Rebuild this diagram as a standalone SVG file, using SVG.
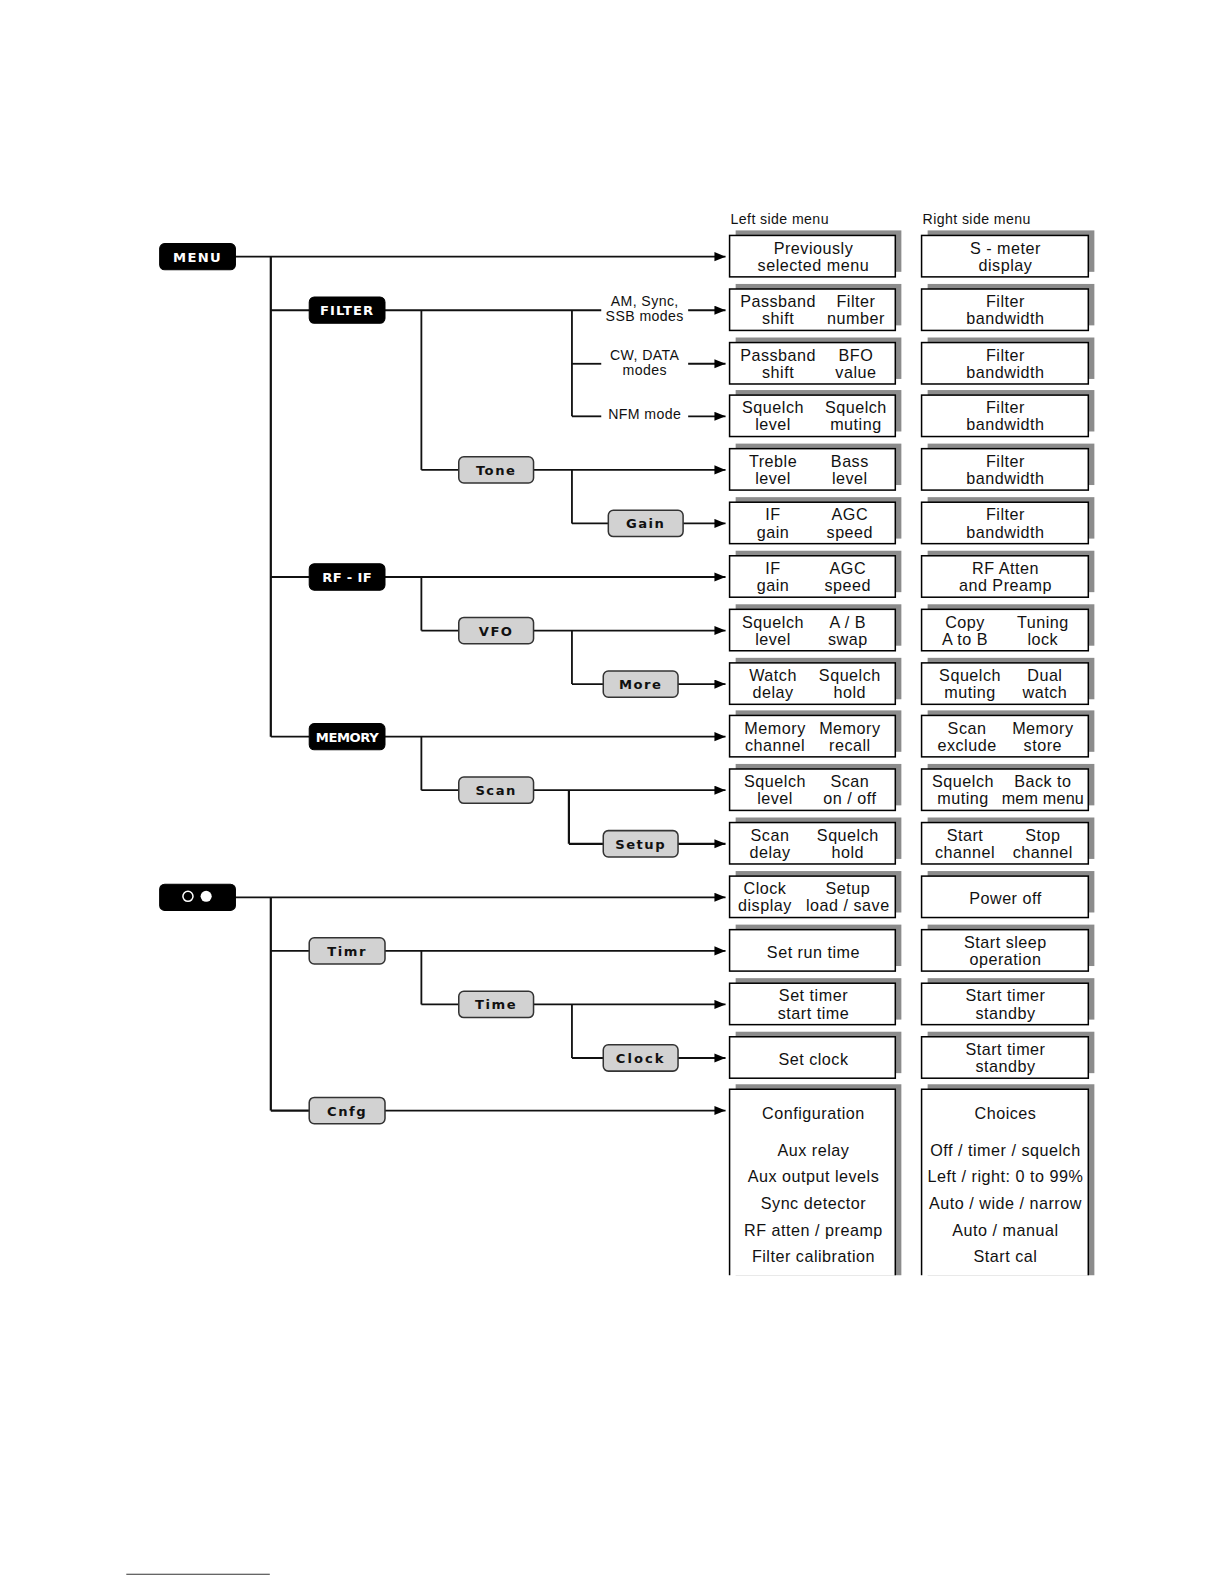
<svg xmlns="http://www.w3.org/2000/svg" width="1224" height="1584" viewBox="0 0 1224 1584">
<defs>
<marker id="arr" markerUnits="userSpaceOnUse" markerWidth="12" markerHeight="10" refX="11" refY="4.5" orient="auto">
<path d="M0,0 L11,4.5 L0,9 z" fill="#000"/>
</marker>
</defs>
<style>
.bn rect{fill:#000;stroke:#000;stroke-width:1}
.bn text{fill:#fff;font-family:"DejaVu Sans",sans-serif;font-weight:bold;font-size:13px;letter-spacing:1px;text-anchor:middle}
.gn rect{fill:#d2d2d2;stroke:#333;stroke-width:1.5}
.gn text{fill:#111;font-family:"DejaVu Sans",sans-serif;font-weight:bold;font-size:13px;letter-spacing:1.5px;text-anchor:middle}
.sh{fill:#8c8c8c}
.bx{fill:#fff;stroke:#000;stroke-width:1.5}
.t{font-family:"Liberation Sans",Arial,sans-serif;font-size:16px;fill:#111;text-anchor:middle;letter-spacing:0.5px}
.lb{font-family:"Liberation Sans",Arial,sans-serif;font-size:14px;fill:#111;text-anchor:middle;letter-spacing:0.4px}
.hd{font-family:"Liberation Sans",Arial,sans-serif;font-size:14px;fill:#111;letter-spacing:0.4px}
.c line{stroke:#111;stroke-width:1.8;fill:none}
.c .a{marker-end:url(#arr)}
</style>
<rect width="1224" height="1584" fill="#fff"/>
<g transform="scale(1.0105)">

<text class="hd" x="723" y="222">Left side menu</text>
<text class="hd" x="913" y="222">Right side menu</text>

<g id="connectors" class="c">
<line class="a" x1="232" y1="254" x2="718" y2="254"/>
<line x1="268" y1="254" x2="268" y2="729" style="stroke-width:2.2"/>
<line x1="268" y1="307" x2="306" y2="307"/>
<line x1="268" y1="571" x2="306" y2="571"/>
<line x1="268" y1="729" x2="306" y2="729"/>
<line x1="381" y1="307" x2="595" y2="307"/>
<line x1="566" y1="307" x2="566" y2="412"/>
<line x1="566" y1="360" x2="595" y2="360"/>
<line x1="566" y1="412" x2="595" y2="412"/>
<line class="a" x1="681" y1="307" x2="718" y2="307"/>
<line class="a" x1="681" y1="360" x2="718" y2="360"/>
<line class="a" x1="681" y1="412" x2="718" y2="412"/>
<line x1="417" y1="307" x2="417" y2="465"/>
<line x1="417" y1="465" x2="454" y2="465"/>
<line class="a" x1="528" y1="465" x2="718" y2="465"/>
<line x1="566" y1="465" x2="566" y2="518"/>
<line x1="566" y1="518" x2="602" y2="518"/>
<line class="a" x1="676" y1="518" x2="718" y2="518"/>
<line class="a" x1="381" y1="571" x2="718" y2="571"/>
<line x1="417" y1="571" x2="417" y2="624"/>
<line x1="417" y1="624" x2="454" y2="624"/>
<line class="a" x1="528" y1="624" x2="718" y2="624"/>
<line x1="566" y1="624" x2="566" y2="677"/>
<line x1="566" y1="677" x2="597" y2="677"/>
<line class="a" x1="671" y1="677" x2="718" y2="677"/>
<line class="a" x1="381" y1="729" x2="718" y2="729"/>
<line x1="417" y1="729" x2="417" y2="782"/>
<line x1="417" y1="782" x2="454" y2="782"/>
<line class="a" x1="528" y1="782" x2="718" y2="782"/>
<line x1="563" y1="782" x2="563" y2="835" style="stroke-width:2.2"/>
<line x1="563" y1="835" x2="597" y2="835" style="stroke-width:2.2"/>
<line class="a" x1="671" y1="835" x2="718" y2="835" style="stroke-width:2.2"/>
<line class="a" x1="232" y1="888" x2="718" y2="888"/>
<line x1="268" y1="888" x2="268" y2="1099" style="stroke-width:2.2"/>
<line x1="268" y1="941" x2="306" y2="941"/>
<line x1="268" y1="1099" x2="306" y2="1099" style="stroke-width:2.2"/>
<line class="a" x1="381" y1="941" x2="718" y2="941"/>
<line x1="417" y1="941" x2="417" y2="994"/>
<line x1="417" y1="994" x2="454" y2="994"/>
<line class="a" x1="528" y1="994" x2="718" y2="994"/>
<line x1="566" y1="994" x2="566" y2="1047"/>
<line x1="566" y1="1047" x2="597" y2="1047" style="stroke-width:2.2"/>
<line class="a" x1="671" y1="1047" x2="718" y2="1047" style="stroke-width:2.2"/>
<line class="a" x1="381" y1="1099" x2="718" y2="1099"/>
</g>

<g id="mode-labels">
<text class="lb" x="638" y="303">AM, Sync,</text>
<text class="lb" x="638" y="318">SSB modes</text>
<text class="lb" x="638" y="356">CW, DATA</text>
<text class="lb" x="638" y="371">modes</text>
<text class="lb" x="638" y="415">NFM mode</text>
</g>

<g id="n-menu" class="bn"><rect x="158" y="241" width="75" height="26" rx="5"/><text x="195.5" y="259" style="letter-spacing:1.3px">MENU</text></g>
<g id="n-filter" class="bn"><rect x="306" y="294" width="75" height="26" rx="5"/><text x="343.5" y="312">FILTER</text></g>
<g id="n-rfif" class="bn"><rect x="306" y="558" width="75" height="26" rx="5"/><text x="343.5" y="576" style="letter-spacing:0.3px">RF - IF</text></g>
<g id="n-memory" class="bn"><rect x="306" y="716" width="75" height="26" rx="5"/><text x="343.5" y="734" style="letter-spacing:-0.4px">MEMORY</text></g>
<g id="n-oo" class="bn"><rect x="158" y="875" width="75" height="26" rx="5"/>
<circle cx="186" cy="887" r="5" fill="none" stroke="#fff" stroke-width="1.5"/><circle cx="204" cy="887" r="5.5" fill="#fff"/></g>

<g id="n-tone" class="gn"><rect x="454" y="452" width="74" height="26" rx="5"/><text x="491" y="470">Tone</text></g>
<g id="n-gain" class="gn"><rect x="602" y="505" width="74" height="26" rx="5"/><text x="639" y="523">Gain</text></g>
<g id="n-vfo" class="gn"><rect x="454" y="611" width="74" height="26" rx="5"/><text x="491" y="629">VFO</text></g>
<g id="n-more" class="gn"><rect x="597" y="664" width="74" height="26" rx="5"/><text x="634" y="682">More</text></g>
<g id="n-scan" class="gn"><rect x="454" y="769" width="74" height="26" rx="5"/><text x="491" y="787">Scan</text></g>
<g id="n-setup" class="gn"><rect x="597" y="822" width="74" height="26" rx="5"/><text x="634" y="840">Setup</text></g>
<g id="n-timr" class="gn"><rect x="306" y="928" width="75" height="26" rx="5"/><text x="343.5" y="946">Timr</text></g>
<g id="n-time" class="gn"><rect x="454" y="981" width="74" height="26" rx="5"/><text x="491" y="999">Time</text></g>
<g id="n-clock" class="gn"><rect x="597" y="1034" width="74" height="26" rx="5"/><text x="634" y="1052" style="letter-spacing:2px">Clock</text></g>
<g id="n-cnfg" class="gn"><rect x="306" y="1086" width="75" height="26" rx="5"/><text x="343.5" y="1104">Cnfg</text></g>

<g id="L0"><rect class="sh" x="728" y="228" width="164" height="41"/><rect class="bx" x="722" y="233" width="164" height="41"/>
<text class="t" x="805" y="251">Previously</text><text class="t" x="805" y="268">selected menu</text></g>
<g id="L1"><rect class="sh" x="728" y="281" width="164" height="41"/><rect class="bx" x="722" y="286" width="164" height="41"/>
<text class="t" x="770" y="304">Passband</text><text class="t" x="770" y="321">shift</text><text class="t" x="847" y="304">Filter</text><text class="t" x="847" y="321">number</text></g>
<g id="L2"><rect class="sh" x="728" y="334" width="164" height="41"/><rect class="bx" x="722" y="339" width="164" height="41"/>
<text class="t" x="770" y="357">Passband</text><text class="t" x="770" y="374">shift</text><text class="t" x="847" y="357">BFO</text><text class="t" x="847" y="374">value</text></g>
<g id="L3"><rect class="sh" x="728" y="386" width="164" height="41"/><rect class="bx" x="722" y="391" width="164" height="41"/>
<text class="t" x="765" y="409">Squelch</text><text class="t" x="765" y="426">level</text><text class="t" x="847" y="409">Squelch</text><text class="t" x="847" y="426">muting</text></g>
<g id="L4"><rect class="sh" x="728" y="439" width="164" height="41"/><rect class="bx" x="722" y="444" width="164" height="41"/>
<text class="t" x="765" y="462">Treble</text><text class="t" x="765" y="479">level</text><text class="t" x="841" y="462">Bass</text><text class="t" x="841" y="479">level</text></g>
<g id="L5"><rect class="sh" x="728" y="492" width="164" height="41"/><rect class="bx" x="722" y="497" width="164" height="41"/>
<text class="t" x="765" y="515">IF</text><text class="t" x="765" y="532">gain</text><text class="t" x="841" y="515">AGC</text><text class="t" x="841" y="532">speed</text></g>
<g id="L6"><rect class="sh" x="728" y="545" width="164" height="41"/><rect class="bx" x="722" y="550" width="164" height="41"/>
<text class="t" x="765" y="568">IF</text><text class="t" x="765" y="585">gain</text><text class="t" x="839" y="568">AGC</text><text class="t" x="839" y="585">speed</text></g>
<g id="L7"><rect class="sh" x="728" y="598" width="164" height="41"/><rect class="bx" x="722" y="603" width="164" height="41"/>
<text class="t" x="765" y="621">Squelch</text><text class="t" x="765" y="638">level</text><text class="t" x="839" y="621">A / B</text><text class="t" x="839" y="638">swap</text></g>
<g id="L8"><rect class="sh" x="728" y="651" width="164" height="41"/><rect class="bx" x="722" y="656" width="164" height="41"/>
<text class="t" x="765" y="674">Watch</text><text class="t" x="765" y="691">delay</text><text class="t" x="841" y="674">Squelch</text><text class="t" x="841" y="691">hold</text></g>
<g id="L9"><rect class="sh" x="728" y="703" width="164" height="41"/><rect class="bx" x="722" y="708" width="164" height="41"/>
<text class="t" x="767" y="726">Memory</text><text class="t" x="767" y="743">channel</text><text class="t" x="841" y="726">Memory</text><text class="t" x="841" y="743">recall</text></g>
<g id="L10"><rect class="sh" x="728" y="756" width="164" height="41"/><rect class="bx" x="722" y="761" width="164" height="41"/>
<text class="t" x="767" y="779">Squelch</text><text class="t" x="767" y="796">level</text><text class="t" x="841" y="779">Scan</text><text class="t" x="841" y="796">on / off</text></g>
<g id="L11"><rect class="sh" x="728" y="809" width="164" height="41"/><rect class="bx" x="722" y="814" width="164" height="41"/>
<text class="t" x="762" y="832">Scan</text><text class="t" x="762" y="849">delay</text><text class="t" x="839" y="832">Squelch</text><text class="t" x="839" y="849">hold</text></g>
<g id="L12"><rect class="sh" x="728" y="862" width="164" height="41"/><rect class="bx" x="722" y="867" width="164" height="41"/>
<text class="t" x="757" y="885">Clock</text><text class="t" x="757" y="902">display</text><text class="t" x="839" y="885">Setup</text><text class="t" x="839" y="902">load / save</text></g>
<g id="L13"><rect class="sh" x="728" y="915" width="164" height="41"/><rect class="bx" x="722" y="920" width="164" height="41"/>
<text class="t" x="805" y="948">Set run time</text></g>
<g id="L14"><rect class="sh" x="728" y="968" width="164" height="41"/><rect class="bx" x="722" y="973" width="164" height="41"/>
<text class="t" x="805" y="991">Set timer</text><text class="t" x="805" y="1008">start time</text></g>
<g id="L15"><rect class="sh" x="728" y="1021" width="164" height="41"/><rect class="bx" x="722" y="1026" width="164" height="41"/>
<text class="t" x="805" y="1054">Set clock</text></g>
<g id="L16"><path class="sh" d="M728,1262 V1073 H892 V1262 z"/><path class="bx" d="M722,1262 V1078 H886 V1262"/>
<text class="t" x="805" y="1107">Configuration</text>
<text class="t" x="805" y="1144">Aux relay</text>
<text class="t" x="805" y="1170">Aux output levels</text>
<text class="t" x="805" y="1196">Sync detector</text>
<text class="t" x="805" y="1223">RF atten / preamp</text>
<text class="t" x="805" y="1249">Filter calibration</text></g>

<g id="R0"><rect class="sh" x="918" y="228" width="165" height="41"/><rect class="bx" x="912" y="233" width="165" height="41"/>
<text class="t" x="995" y="251">S - meter</text><text class="t" x="995" y="268">display</text></g>
<g id="R1"><rect class="sh" x="918" y="281" width="165" height="41"/><rect class="bx" x="912" y="286" width="165" height="41"/>
<text class="t" x="995" y="304">Filter</text><text class="t" x="995" y="321">bandwidth</text></g>
<g id="R2"><rect class="sh" x="918" y="334" width="165" height="41"/><rect class="bx" x="912" y="339" width="165" height="41"/>
<text class="t" x="995" y="357">Filter</text><text class="t" x="995" y="374">bandwidth</text></g>
<g id="R3"><rect class="sh" x="918" y="386" width="165" height="41"/><rect class="bx" x="912" y="391" width="165" height="41"/>
<text class="t" x="995" y="409">Filter</text><text class="t" x="995" y="426">bandwidth</text></g>
<g id="R4"><rect class="sh" x="918" y="439" width="165" height="41"/><rect class="bx" x="912" y="444" width="165" height="41"/>
<text class="t" x="995" y="462">Filter</text><text class="t" x="995" y="479">bandwidth</text></g>
<g id="R5"><rect class="sh" x="918" y="492" width="165" height="41"/><rect class="bx" x="912" y="497" width="165" height="41"/>
<text class="t" x="995" y="515">Filter</text><text class="t" x="995" y="532">bandwidth</text></g>
<g id="R6"><rect class="sh" x="918" y="545" width="165" height="41"/><rect class="bx" x="912" y="550" width="165" height="41"/>
<text class="t" x="995" y="568">RF Atten</text><text class="t" x="995" y="585">and Preamp</text></g>
<g id="R7"><rect class="sh" x="918" y="598" width="165" height="41"/><rect class="bx" x="912" y="603" width="165" height="41"/>
<text class="t" x="955" y="621">Copy</text><text class="t" x="955" y="638">A to B</text><text class="t" x="1032" y="621">Tuning</text><text class="t" x="1032" y="638">lock</text></g>
<g id="R8"><rect class="sh" x="918" y="651" width="165" height="41"/><rect class="bx" x="912" y="656" width="165" height="41"/>
<text class="t" x="960" y="674">Squelch</text><text class="t" x="960" y="691">muting</text><text class="t" x="1034" y="674">Dual</text><text class="t" x="1034" y="691">watch</text></g>
<g id="R9"><rect class="sh" x="918" y="703" width="165" height="41"/><rect class="bx" x="912" y="708" width="165" height="41"/>
<text class="t" x="957" y="726">Scan</text><text class="t" x="957" y="743">exclude</text><text class="t" x="1032" y="726">Memory</text><text class="t" x="1032" y="743">store</text></g>
<g id="R10"><rect class="sh" x="918" y="756" width="165" height="41"/><rect class="bx" x="912" y="761" width="165" height="41"/>
<text class="t" x="953" y="779">Squelch</text><text class="t" x="953" y="796">muting</text><text class="t" x="1032" y="779">Back to</text><text class="t" x="1032" y="796" style="letter-spacing:0.2px">mem menu</text></g>
<g id="R11"><rect class="sh" x="918" y="809" width="165" height="41"/><rect class="bx" x="912" y="814" width="165" height="41"/>
<text class="t" x="955" y="832">Start</text><text class="t" x="955" y="849">channel</text><text class="t" x="1032" y="832">Stop</text><text class="t" x="1032" y="849">channel</text></g>
<g id="R12"><rect class="sh" x="918" y="862" width="165" height="41"/><rect class="bx" x="912" y="867" width="165" height="41"/>
<text class="t" x="995" y="895">Power off</text></g>
<g id="R13"><rect class="sh" x="918" y="915" width="165" height="41"/><rect class="bx" x="912" y="920" width="165" height="41"/>
<text class="t" x="995" y="938">Start sleep</text><text class="t" x="995" y="955">operation</text></g>
<g id="R14"><rect class="sh" x="918" y="968" width="165" height="41"/><rect class="bx" x="912" y="973" width="165" height="41"/>
<text class="t" x="995" y="991">Start timer</text><text class="t" x="995" y="1008">standby</text></g>
<g id="R15"><rect class="sh" x="918" y="1021" width="165" height="41"/><rect class="bx" x="912" y="1026" width="165" height="41"/>
<text class="t" x="995" y="1044">Start timer</text><text class="t" x="995" y="1061">standby</text></g>
<g id="R16"><path class="sh" d="M918,1262 V1073 H1083 V1262 z"/><path class="bx" d="M912,1262 V1078 H1077 V1262"/>
<text class="t" x="995" y="1107">Choices</text>
<text class="t" x="995" y="1144">Off / timer / squelch</text>
<text class="t" x="995" y="1170">Left / right: 0 to 99%</text>
<text class="t" x="995" y="1196">Auto / wide / narrow</text>
<text class="t" x="995" y="1223">Auto / manual</text>
<text class="t" x="995" y="1249">Start cal</text></g>

<line x1="125" y1="1558" x2="267" y2="1558" stroke="#333" stroke-width="1"/>
</g>
</svg>
